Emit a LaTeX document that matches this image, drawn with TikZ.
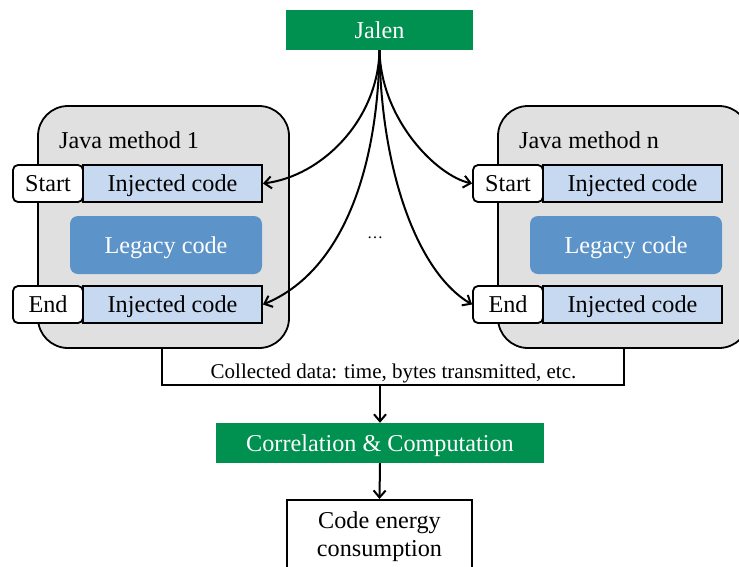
\documentclass[tikz,border=0pt]{standalone}
\usepackage{fontspec}
\setmainfont{Liberation Serif}
\usetikzlibrary{arrows.meta}
\definecolor{jgreen}{RGB}{0,144,80}
\definecolor{injblue}{RGB}{198,217,240}
\definecolor{legblue}{RGB}{92,147,201}
\definecolor{methgray}{RGB}{224,224,224}
\tikzset{
  big/.style={font=\fontsize{24.2}{28}\selectfont},
  boxtext/.style={big, text height=16pt, text depth=0pt},
  greenbox/.style={boxtext, fill=jgreen, text=white, inner sep=0pt},
  methodbox/.style={draw, line width=1.8pt, fill=methgray, rounded corners=30pt, minimum width=251pt, minimum height=242pt, inner sep=0pt},
  injbox/.style={boxtext, draw, line width=1.8pt, fill=injblue, minimum width=179pt, minimum height=37pt, inner sep=0pt},
  tagbox/.style={boxtext, draw, line width=1.8pt, fill=white, rounded corners=5pt, minimum width=70pt, minimum height=37pt, inner sep=0pt},
  legbox/.style={boxtext, fill=legblue, text=white, rounded corners=8pt, minimum width=192pt, minimum height=58pt, inner sep=0pt},
  conn/.style={line width=2pt, -{Straight Barb[length=7pt,width=12pt,line width=2pt]}},
}
\begin{document}
\begin{tikzpicture}[x=1pt,y=-1pt]
\useasboundingbox (0,0) rectangle (739,566);
\clip (0,0) rectangle (739,566);
% collected data bracket (open at the top, hidden behind method boxes)
\node[fill=white, minimum width=462pt, minimum height=45pt, inner sep=0pt] (coll) at (393,362.5) {};
\draw[line width=1.8pt] (coll.north west) -- (coll.south west) -- (coll.south east) -- (coll.north east);
\node[font=\fontsize{21}{24}\selectfont] (colltext) at (393.5,373) {Collected data: time, bytes transmitted, etc.};
% Jalen
\node[greenbox, minimum width=187pt, minimum height=40pt] (jalen) at (379.5,30) {Jalen};
% method 1
\node[methodbox] (m1) at (163.5,227) {};
\node[big, anchor=west, inner sep=0pt] (t1) at (59,140) {Java method 1};
\node[injbox] (i1s) at (172.5,183.5) {Injected code};
\node[tagbox] (s1) at (48,183.5) {Start};
\node[legbox] (l1) at (166,245) {Legacy code};
\node[injbox] (i1e) at (172.5,304.5) {Injected code};
\node[tagbox] (e1) at (48,304.5) {End};
% method n
\node[methodbox] (m2) at (623.5,227) {};
\node[big, anchor=west, inner sep=0pt] (t2) at (519,140) {Java method n};
\node[injbox] (i2s) at (632.5,183.5) {Injected code};
\node[tagbox] (s2) at (508,183.5) {Start};
\node[legbox] (l2) at (626,245) {Legacy code};
\node[injbox] (i2e) at (632.5,304.5) {Injected code};
\node[tagbox] (e2) at (508,304.5) {End};
% dots
\node[font=\fontsize{16}{18}\selectfont] (dots) at (375,238) {\dots};
% curves
\draw[conn] (jalen.south) .. controls (378,120) and (322,176) .. (i1s.east);
\draw[conn] (jalen.south) .. controls (378,170) and (342,272) .. (i1e.east);
\draw[conn] (jalen.south) .. controls (381,120) and (437,176) .. (s2.west);
\draw[conn] (jalen.south) .. controls (381,170) and (417,272) .. (e2.west);
% lower flow
\node[greenbox, minimum width=328pt, minimum height=40pt] (corr) at (380,443) {Correlation \& Computation};
\node[draw, line width=1.8pt, fill=white, minimum width=185pt, minimum height=100pt, inner sep=0pt, anchor=north] (energy) at (379.5,499) {};
\node[big, align=center, inner sep=0pt] (etext) at (379.5,537) {Code energy\\[0pt]consumption};
\draw[conn] (corr.north |- coll.south) -- (corr.north);
\draw[conn] (corr.south) -- (energy.north);
\end{tikzpicture}
\end{document}
